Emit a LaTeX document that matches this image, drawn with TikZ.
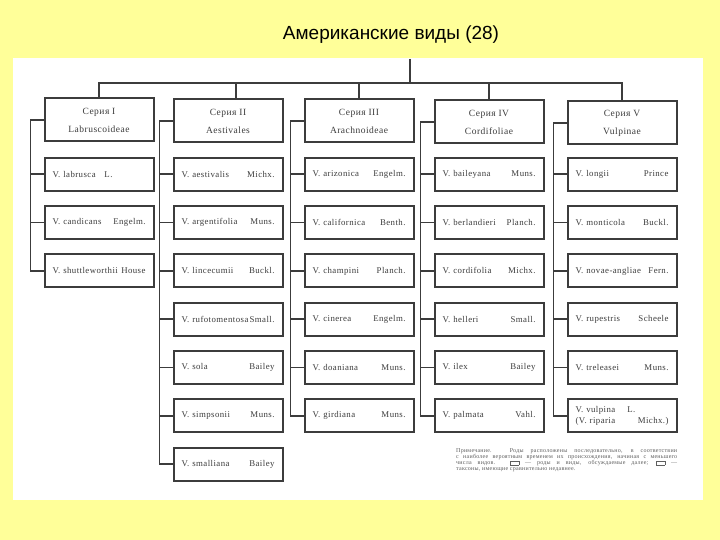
\documentclass[tikz,border=0pt]{standalone}
\usepackage{fontspec}
\setmainfont{Liberation Serif}
\newfontfamily\titlefont{Liberation Sans}
\newfontfamily\scanfont[LetterSpace=5]{Liberation Serif}
\newfontfamily\notefont[LetterSpace=4]{Liberation Serif}
\definecolor{pageyellow}{RGB}{255,255,153}
\definecolor{ink}{RGB}{60,60,60}
\definecolor{noteink}{RGB}{95,95,95}
\newcommand\notebox{{\fboxsep=0pt\fboxrule=0.4pt\fbox{\rule{0pt}{3pt}\hspace{8pt}}}}

\begin{document}
\begin{tikzpicture}
		[x=1pt,y=-1pt,
		seria/.style={draw=ink,line width=2pt,text=ink,
			minimum width=109pt,minimum height=43pt,inner sep=0pt,
			align=center,font=\scanfont\fontsize{9.5}{18}\selectfont},
		vid/.style={draw=ink,line width=2pt,text=ink,
			minimum width=109pt,minimum height=33pt,inner sep=0pt,
			text width=93pt,align=left,font=\scanfont\fontsize{8.8}{11}\selectfont},
		link/.style={draw=ink,line width=1.7pt}]
		\fill[pageyellow] (0,0) rectangle (720,540);
		\fill[white] (13,58) rectangle (703,500);
		\node[font=\titlefont\fontsize{19}{19}\selectfont] (title) at (391,35)
			{Американские виды (28)};
		% series
		\node[seria] (s1) at (99,120) {Серия I\\Labruscoideae};
		\node[seria] (s2) at (228,121) {Серия II\\Aestivales};
		\node[seria] (s3) at (359,121) {Серия III\\Arachnoideae};
		\node[seria] (s4) at (489,122) {Серия IV\\Cordifoliae};
		\node[seria] (s5) at (622,123) {Серия V\\Vulpinae};
		\coordinate (root) at (410,59);
		\coordinate (bar) at (410,83);
		\draw[link] (root) -- (bar);
		\draw[link] (s1.north) |- (bar) -| (s5.north);
		\draw[link] ([xshift=8pt]s2.north) -- ([xshift=8pt]s2.north |- bar);
		\draw[link] (s3.north) -- (s3.north |- bar);
		\draw[link] (s4.north) -- (s4.north |- bar);
		% species
		\foreach \c/\cx/\n/\vlist in {
			1/99/3/{V. labrusca\quad L., V. candicans\hfill Engelm., V. shuttleworthii\hfill House},
			2/228/7/{V. aestivalis\hfill Michx., V. argentifolia\hfill Muns., V. lincecumii\hfill Buckl.\hspace{4pt},
				V. rufotomentosa\hfill Small., V. sola\hfill Bailey\hspace{12pt}, V. simpsonii\hfill Muns.\hspace{6pt},
				V. smalliana\hfill Bailey\hspace{6pt}},
			3/359/6/{V. arizonica\hfill Engelm., V. californica\hfill Benth.\hspace{4pt}, V. champini\hfill Planch.\hspace{4pt},
				V. cinerea\hfill Engelm.\hspace{4pt}, V. doaniana\hfill Muns.\hspace{4pt}, V. girdiana\hfill Muns.\hspace{6pt}},
			4/489/6/{V. baileyana\hfill Muns.\hspace{4pt}, V. berlandieri\hfill Planch., V. cordifolia\hfill Michx.\hspace{2pt},
				V. helleri\hfill Small.\hspace{8pt}, V. ilex\hfill Bailey\hspace{14pt}, V. palmata\hfill Vahl.\hspace{8pt}},
			5/622/6/{V. longii\hfill Prince\hspace{14pt}, V. monticola\hfill Buckl., V. novae-angliae\hfill Fern.,
				V. rupestris\hfill Scheele\hspace{4pt}, V. treleasei\hfill Muns.\hspace{10pt},
				{V. vulpina\hspace{12pt}L.\\(V. riparia\hfill Michx.)\hspace{8pt}}}}
		{
			\foreach \v [count=\r] in \vlist
			{
				\node[vid] (v\c-\r) at (\cx,{126+48.3*\r}) {\v};
				\draw[link] (v\c-\r.west) -- ++(-13,0);
			}
			\draw[link] (s\c.west) -- ++(-13,0) |- (v\c-\n.west);
		}
		% note
		\node[anchor=north west,inner sep=0pt,text width=221pt,align=justify,text=noteink,
			font=\notefont\fontsize{6}{6.2}\selectfont] (note) at (456,448)
			{Примечание. Роды расположены последовательно, в соответствии\linebreak
			с наиболее вероятным временем их происхождения, начиная с меньшего\linebreak
			числа видов. \notebox{} — роды и виды, обсуждаемые далее; \notebox{} —\linebreak
			таксоны, имеющие сравнительно недавнее.};
	\end{tikzpicture}
\end{document}
